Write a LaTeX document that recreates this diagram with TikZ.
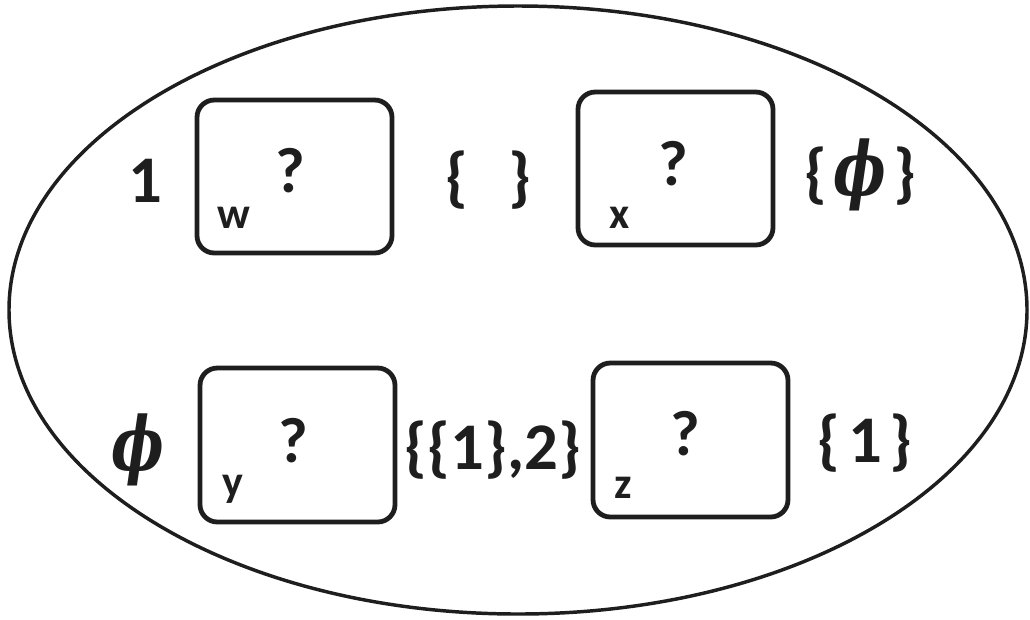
\documentclass[tikz,border=0pt]{standalone}
\usepackage{fontspec}
\setmainfont{Carlito}
\newfontfamily\phifont{DejaVu Serif}
\definecolor{ink}{HTML}{1E1E1E}
\newcommand{\bigphi}{\scalebox{0.75}[1]{\phifont\fontsize{56}{60}\selectfont\bfseries\itshape ϕ}}
\begin{document}
\begin{tikzpicture}[x=0.75pt,y=-0.75pt,
  box/.style={draw=ink,line width=3.6pt,rounded corners=13pt},
  big/.style={text=ink,font=\fontsize{50}{56}\selectfont\bfseries,inner sep=0pt},
  qm/.style={text=ink,font=\fontsize{48}{56}\selectfont\bfseries,inner sep=0pt},
  lab/.style={text=ink,font=\fontsize{33}{40}\selectfont\bfseries,inner sep=0pt},
  phi/.style={text=ink,inner sep=0pt}]
\useasboundingbox (0,0) rectangle (1030,619);
\draw[ink,line width=2.6pt] (518,310) ellipse [x radius=509, y radius=304];
% boxes
\draw[box] (197,100) rectangle (392,253);
\draw[box] (578,92) rectangle (773,245);
\draw[box] (200,368) rectangle (395,522);
\draw[box] (593,363) rectangle (788,517);
% question marks
\node[qm] (qw) at (290,171) {?};
\node[qm] (qx) at (673,164) {?};
\node[qm] (qy) at (293,441) {?};
\node[qm] (qz) at (685,434) {?};
% labels
\node[lab] (lw) at (234,218) {w};
\node[lab] (lx) at (620,218) {x};
\node[lab] (ly) at (233,489) {y};
\node[lab] (lz) at (623,488) {z};
% outside texts
\node[big] (t1) at (145,181) {1};
\node[big] (te) at (488,180) {\{\hspace{0.6em}\}};
\node[big] (tp) at (860,175) {\{\hspace{0.1em}\bigphi\hspace{0.1em}\}};
\node[phi] (p) at (138,450) {\bigphi};
\node[big] (t12) at (493,450) {\{\{1\},2\}};
\node[big] (t1s) at (865,443) {\{\hspace{0.12em}1\hspace{0.12em}\}};
\end{tikzpicture}
\end{document}
